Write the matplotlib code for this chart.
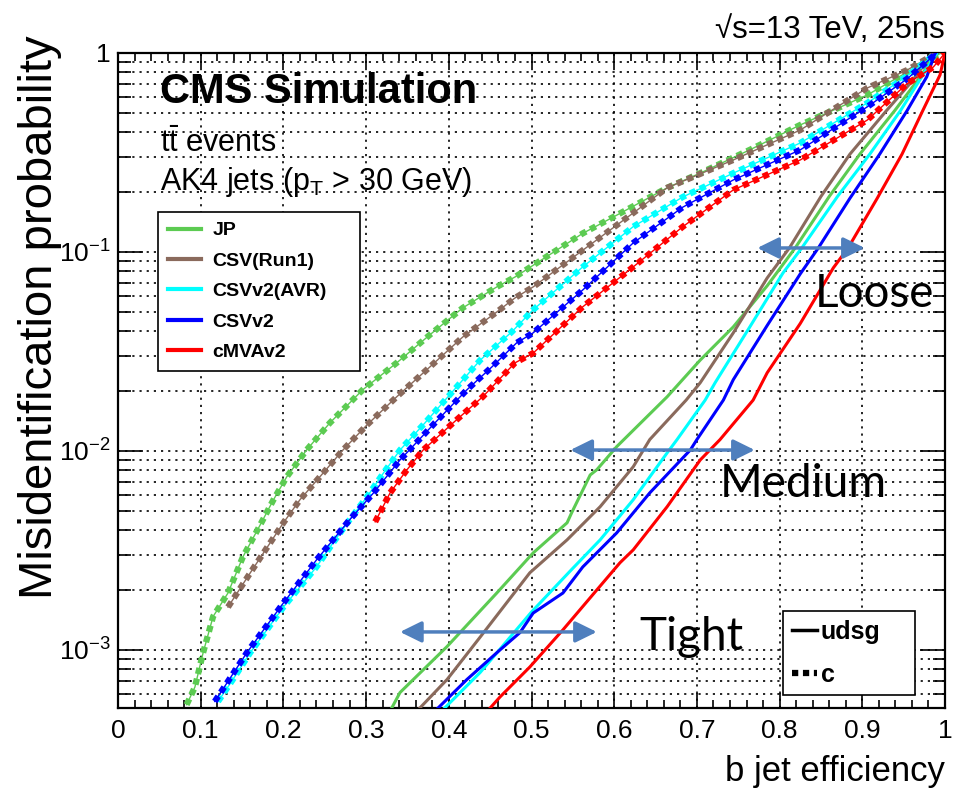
import numpy as np
import matplotlib.pyplot as plt
from matplotlib.lines import Line2D
from matplotlib.ticker import MultipleLocator, LogLocator, FuncFormatter, NullFormatter

plt.rcParams['font.family'] = ['Liberation Sans', 'DejaVu Sans']
plt.rcParams['mathtext.default'] = 'regular'

# b-tag performance curves: b efficiency vs misid probability
taggers = ['JP', 'CSV(Run1)', 'CSVv2(AVR)', 'CSVv2', 'cMVAv2']
colors = ['#5ccb52', '#8a6a5c', '#00ffff', '#0000ff', '#ff0000']

# udsg (solid)
jp_udsg_x = [0.331, 0.341, 0.398, 0.458, 0.502, 0.543, 0.549, 0.571, 0.579, 0.603, 0.664,
             0.704, 0.744, 0.785, 0.819, 0.860, 0.897, 0.939, 0.968, 0.99]
jp_udsg_y = [5.1e-4, 6.1e-4, 1.04e-3, 1.93e-3, 3.07e-3, 4.35e-3, 4.93e-3, 7.57e-3, 8.04e-3, 1.05e-2, 1.87e-2,
             2.86e-2, 4.20e-2, 6.76e-2, 0.105, 0.19, 0.31, 0.512, 0.74, 1.0]
csv1_udsg_x = [0.365, 0.398, 0.438, 0.498, 0.543, 0.583, 0.623, 0.643, 0.687, 0.704, 0.744,
               0.785, 0.812, 0.850, 0.885, 0.929, 0.960, 0.985]
csv1_udsg_y = [5.1e-4, 7.1e-4, 1.16e-3, 2.44e-3, 3.57e-3, 5.24e-3, 8.32e-3, 1.14e-2, 1.80e-2, 2.20e-2, 3.92e-2,
               7.4e-2, 0.105, 0.19, 0.31, 0.512, 0.72, 1.0]
avr_udsg_x = [0.395, 0.438, 0.500, 0.548, 0.583, 0.623, 0.664, 0.676, 0.710, 0.722, 0.764,
              0.804, 0.827, 0.870, 0.909, 0.946, 0.972, 0.99]
avr_udsg_y = [5.1e-4, 7.7e-4, 1.55e-3, 2.52e-3, 3.57e-3, 5.68e-3, 9.77e-3, 1.14e-2, 1.80e-2, 2.2e-2, 4.20e-2,
              7.83e-2, 0.105, 0.19, 0.31, 0.512, 0.76, 1.0]
v2_udsg_x = [0.387, 0.422, 0.462, 0.486, 0.502, 0.538, 0.562, 0.603, 0.643, 0.692, 0.700, 0.732, 0.744,
             0.785, 0.825, 0.847, 0.885, 0.921, 0.954, 0.978, 0.988]
v2_udsg_y = [5.1e-4, 7.1e-4, 1.0e-3, 1.22e-3, 1.53e-3, 1.93e-3, 2.61e-3, 3.87e-3, 6.15e-3, 1.01e-2, 1.14e-2, 1.80e-2, 2.28e-2,
             4.27e-2, 7.76e-2, 0.105, 0.186, 0.31, 0.512, 0.76, 1.0]
mva_udsg_x = [0.450, 0.462, 0.498, 0.538, 0.579, 0.607, 0.623, 0.664, 0.704, 0.728, 0.768,
              0.785, 0.825, 0.865, 0.883, 0.918, 0.948, 0.973, 0.994, 1.0]
mva_udsg_y = [5.1e-4, 5.8e-4, 8.2e-4, 1.26e-3, 2.00e-3, 2.74e-3, 3.18e-3, 5.24e-3, 9.0e-3, 1.14e-2, 1.80e-2,
              2.47e-2, 4.37e-2, 8.32e-2, 0.105, 0.186, 0.31, 0.512, 0.776, 1.0]

# c (dotted)
jp_c_x = [0.083, 0.093, 0.103, 0.115, 0.133, 0.151, 0.172, 0.188, 0.204, 0.228, 0.256, 0.296, 0.337,
          0.377, 0.417, 0.458, 0.480, 0.562, 0.603, 0.664, 0.704, 0.764, 0.825, 0.906, 0.954, 0.995]
jp_c_y = [5.3e-4, 6.5e-4, 9.7e-4, 1.47e-3, 1.93e-3, 2.93e-3, 4.25e-3, 5.68e-3, 7.40e-3, 1.01e-2, 1.38e-2, 2.03e-2, 2.77e-2,
          3.83e-2, 5.24e-2, 6.67e-2, 7.48e-2, 0.124, 0.153, 0.210, 0.249, 0.326, 0.435, 0.615, 0.80, 1.0]
csv1_c_x = [0.133, 0.160, 0.184, 0.200, 0.220, 0.244, 0.272, 0.301, 0.337, 0.377, 0.417, 0.458,
            0.480, 0.502, 0.562, 0.623, 0.664, 0.744, 0.825, 0.906, 0.954, 0.99]
csv1_c_y = [1.64e-3, 2.44e-3, 3.45e-3, 4.35e-3, 5.68e-3, 7.40e-3, 1.01e-2, 1.35e-2, 1.87e-2, 2.64e-2, 3.74e-2, 4.99e-2,
            5.87e-2, 6.67e-2, 0.102, 0.157, 0.210, 0.290, 0.410, 0.667, 0.82, 1.0]
avr_c_x = [0.121, 0.139, 0.160, 0.180, 0.200, 0.220, 0.240, 0.260, 0.280, 0.301, 0.321, 0.341, 0.371,
           0.398, 0.438, 0.476, 0.502, 0.562, 0.623, 0.683, 0.744, 0.825, 0.906, 0.954, 0.99]
avr_c_y = [5.5e-4, 7.1e-4, 9.7e-4, 1.26e-3, 1.64e-3, 2.07e-3, 2.61e-3, 3.45e-3, 4.50e-3, 5.87e-3, 7.74e-3, 1.01e-2, 1.38e-2,
           1.85e-2, 2.86e-2, 3.96e-2, 5.12e-2, 8.41e-2, 0.134, 0.189, 0.249, 0.353, 0.561, 0.766, 1.0]
v2_c_x = [0.117, 0.156, 0.200, 0.240, 0.280, 0.309, 0.341, 0.383, 0.422, 0.452, 0.482, 0.502,
          0.562, 0.623, 0.683, 0.744, 0.825, 0.906, 0.954, 0.99]
v2_c_y = [5.5e-4, 9.7e-4, 1.72e-3, 2.83e-3, 4.50e-3, 6.15e-3, 9.0e-3, 1.38e-2, 2.03e-2, 2.64e-2, 3.49e-2, 3.92e-2,
          6.44e-2, 0.111, 0.168, 0.230, 0.326, 0.536, 0.74, 1.0]
mva_c_x = [0.311, 0.329, 0.349, 0.369, 0.405, 0.441, 0.480, 0.502, 0.562, 0.623, 0.683, 0.744,
           0.825, 0.906, 0.954, 0.986, 1.0]
mva_c_y = [4.4e-3, 6.15e-3, 8.0e-3, 1.01e-2, 1.38e-2, 1.87e-2, 2.77e-2, 3.10e-2, 5.30e-2, 8.41e-2, 0.134, 0.205,
           0.290, 0.460, 0.70, 0.851, 1.0]

udsg_x = [jp_udsg_x, csv1_udsg_x, avr_udsg_x, v2_udsg_x, mva_udsg_x]
udsg_y = [jp_udsg_y, csv1_udsg_y, avr_udsg_y, v2_udsg_y, mva_udsg_y]
c_x = [jp_c_x, csv1_c_x, avr_c_x, v2_c_x, mva_c_x]
c_y = [jp_c_y, csv1_c_y, avr_c_y, v2_c_y, mva_c_y]

# working point arrows
wp_names = ['Loose', 'Medium', 'Tight']
wp_y = [0.1047, 0.0101, 1.23e-3]
wp_x0 = [0.773, 0.547, 0.341]
wp_x1 = [0.903, 0.770, 0.579]
wp_text_x = [0.842, 0.728, 0.630]
wp_text_y = [0.053, 5.87e-3, 1.0e-3]

W, H = 966, 793
fig = plt.figure(figsize=(W / 100, H / 100), dpi=100)
ax = fig.add_axes([118 / W, 1 - 708 / H, 827 / W, 655 / H])

for i in range(len(taggers)):
    ax.plot(udsg_x[i], udsg_y[i], color=colors[i], lw=2.2, zorder=3)
    ax.plot(c_x[i], c_y[i], color=colors[i], lw=1.0, zorder=3)
    ax.plot(c_x[i], c_y[i], color=colors[i], lw=4.5, ls=(0, (1, 0.75)),
            dash_capstyle='butt', zorder=3)

ax.set_yscale('log')
ax.set_xlim(0, 1)
ax.set_ylim(5.1e-4, 1)

ax.xaxis.set_major_locator(MultipleLocator(0.1))
ax.xaxis.set_minor_locator(MultipleLocator(0.02))
ax.yaxis.set_major_locator(LogLocator(base=10, numticks=10))
ax.yaxis.set_minor_locator(LogLocator(base=10, subs=np.arange(2, 10), numticks=100))
ax.yaxis.set_minor_formatter(NullFormatter())
ax.xaxis.set_major_formatter(FuncFormatter(lambda v, p: '%g' % round(v, 2)))
ax.yaxis.set_major_formatter(FuncFormatter(
    lambda v, p: '1' if abs(v - 1) < 1e-9 else r'$10^{%d}$' % round(np.log10(v))))

ax.tick_params(which='both', direction='in', top=True, right=True, width=1.2)
ax.tick_params(axis='x', which='major', length=11, labelsize=19, pad=8)
ax.tick_params(axis='x', which='minor', length=5.5)
ax.tick_params(axis='y', which='major', length=18, labelsize=19, pad=5)
ax.tick_params(axis='y', which='minor', length=9)
for s in ax.spines.values():
    s.set_linewidth(1.6)

ax.grid(True, axis='x', which='major', color='k', ls=(0, (1.3, 3)), lw=1.2)
ax.grid(True, axis='y', which='both', color='k', ls=(0, (1.3, 3)), lw=1.2)

# working point arrows and names
for name, y, xa, xb, tx, ty in zip(wp_names, wp_y, wp_x0, wp_x1, wp_text_x, wp_text_y):
    ax.annotate('', xy=(xb, y), xytext=(xa, y),
                arrowprops=dict(arrowstyle='<|-|>,head_length=0.65,head_width=0.32',
                                color='#4f7fbd', lw=2.5, mutation_scale=20,
                                shrinkA=0, shrinkB=0), zorder=4)
    ax.text(tx, ty, name, fontsize=33, family=['Lato', 'DejaVu Sans'],
            va='baseline', ha='left', zorder=5)

# legends
h1 = [Line2D([], [], color=c, lw=3) for c in colors]
leg1 = ax.legend(h1, taggers, loc='upper left', mode='expand',
                 bbox_to_anchor=(158 / W, 1 - 367 / H, 202 / W, 155 / H),
                 bbox_transform=fig.transFigure, borderaxespad=0,
                 prop=dict(weight='bold', size=14), handlelength=1.7,
                 handletextpad=0.6, labelspacing=0.66, borderpad=0.5,
                 fancybox=False, framealpha=1, edgecolor='k')
leg1.get_frame().set_linewidth(1.2)
ax.add_artist(leg1)

h2 = [Line2D([], [], color='k', lw=2.5),
      Line2D([], [], color='k', lw=4.5, ls=(0, (1, 0.75)), dash_capstyle='butt')]
leg2 = ax.legend(h2, ['udsg', 'c'], loc='upper left', mode='expand',
                 bbox_to_anchor=(783 / W, 1 - 693 / H, 132 / W, 82 / H),
                 bbox_transform=fig.transFigure, borderaxespad=0,
                 prop=dict(weight='bold', size=18), handlelength=1.0,
                 handletextpad=0.15, labelspacing=0.75, borderpad=0.35,
                 fancybox=False, framealpha=1, edgecolor='k')
leg2.get_frame().set_linewidth(1.2)

# labels and captions
fig.text(160 / W, 1 - 103 / H, 'CMS Simulation', fontsize=30, weight='bold', va='baseline')
fig.text(160 / W, 1 - 152 / H, r'$t\bar{t}$ events', fontsize=22, va='baseline')
fig.text(160 / W, 1 - 190 / H, r'AK4 jets (p$_{T}$ > 30 GeV)', fontsize=22, va='baseline')
fig.text(945 / W, 1 - 38 / H, '\u221as=13 TeV, 25ns', fontsize=22.5, ha='right', va='baseline')
fig.text(945 / W, 1 - 781 / H, 'b jet efficiency', fontsize=25, ha='right', va='baseline')
fig.text(40 / W, 1 - 35 / H, 'Misidentification probability', fontsize=34,
         rotation=90, ha='center', va='top')

fig.savefig('out.png', dpi=100)
